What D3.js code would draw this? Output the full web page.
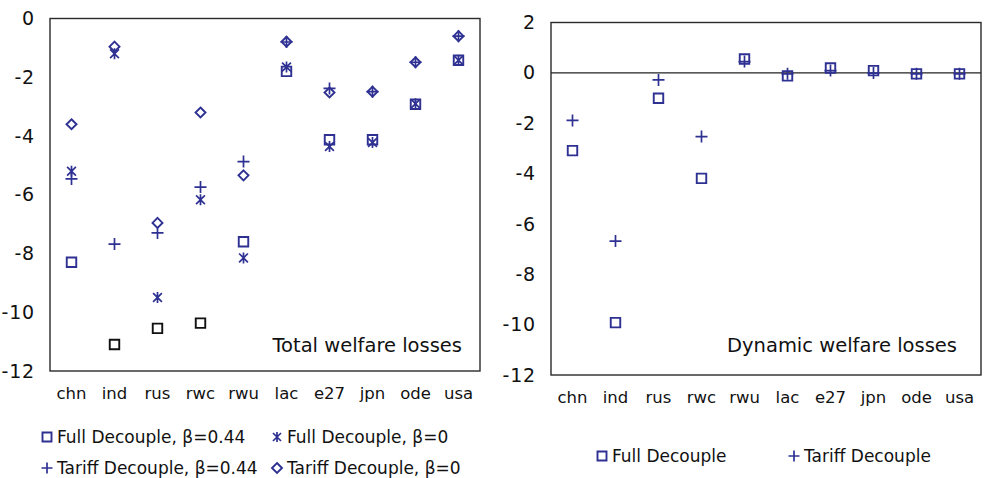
<!DOCTYPE html>
<html>
<head>
<meta charset="utf-8">
<script src="https://cdn.jsdelivr.net/npm/d3@7"></script>
<style>
  html, body { margin: 0; padding: 0; background: #fff; }
  svg { display: block; font-family: "DejaVu Sans", sans-serif; }
</style>
</head>
<body>
<svg id="chart" width="993" height="478"></svg>
<script>
// Regions along the horizontal axis
const regions = ['chn', 'ind', 'rus', 'rwc', 'rwu', 'lac', 'e27', 'jpn', 'ode', 'usa'];

// Total welfare losses (%)
const totalFullB044   = [-8.3, -11.1, -10.55, -10.37, -7.6, -1.8, -4.13, -4.13, -2.92, -1.42];
const totalFullB0     = [-5.2, -1.2, -9.5, -6.17, -8.15, -1.65, -4.36, -4.22, -2.9, -1.42];
const totalTariffB044 = [-5.46, -7.68, -7.3, -5.74, -4.87, -0.8, -2.38, -2.49, -1.49, -0.6];
const totalTariffB0   = [-3.6, -0.96, -6.96, -3.2, -5.34, -0.79, -2.52, -2.49, -1.49, -0.6];

// Dynamic welfare losses (%)
const dynamicFull   = [-3.09, -9.92, -1.01, -4.19, 0.55, -0.12, 0.19, 0.09, -0.04, -0.04];
const dynamicTariff = [-1.89, -6.68, -0.28, -2.53, 0.45, -0.04, 0.09, -0.01, -0.04, -0.04];

// Axis ticks
const totalTicks   = [0, -2, -4, -6, -8, -10, -12];
const dynamicTicks = [2, 0, -2, -4, -6, -8, -10, -12];

// Full-decouple β=0.44 points that are printed in black in the left panel
const blackFullRegions = ['ind', 'rus', 'rwc'];

const NAVY = '#2e3192';
const INK = '#111';
const svg = d3.select('#chart');

// Marker outlines, centred on 0,0
const markerPath = {
  square: s => `M${-s/2},${-s/2}H${s/2}V${s/2}H${-s/2}Z`,
  plus: s => `M${-s/2},0H${s/2}M0,${-s/2}V${s/2}`,
  star: s => `M${-s*0.4},${-s*0.4}L${s*0.4},${s*0.4}M${-s*0.4},${s*0.4}L${s*0.4},${-s*0.4}M0,${-s/2}V${s/2}`,
  diamond: s => `M0,${-s/2}L${s/2},0L0,${s/2}L${-s/2},0Z`
};
const markerSize = { square: 9.5, plus: 12, star: 11, diamond: 10 };

function drawMarker(g, shape, x, y, color, size) {
  g.append('path')
    .attr('transform', `translate(${x},${y})`)
    .attr('d', markerPath[shape](size || markerSize[shape]))
    .attr('fill', 'none')
    .attr('stroke', color)
    .attr('stroke-width', shape === 'square' || shape === 'diamond' ? 1.9 : 1.7);
}

function panel(opts) {
  const { left, right, top, bottom, domain, ticks, series, title, titleX, titleY, zeroLine } = opts;
  const x = d3.scaleBand().domain(regions).range([left, right]);
  const y = d3.scaleLinear().domain(domain).range([bottom, top]);
  const g = svg.append('g');

  // y axis labels
  const ya = g.append('g')
    .attr('transform', `translate(${left},0)`)
    .call(d3.axisLeft(y).tickValues(ticks).tickSize(0).tickPadding(15));
  ya.select('.domain').remove();
  ya.selectAll('text').attr('font-size', 19).attr('fill', INK)
    .attr('font-family', '"DejaVu Sans", sans-serif')
    .attr('letter-spacing', 0.8)
    .text(d => d < 0 ? '-' + Math.abs(d) : d);

  // category labels
  const xa = g.append('g')
    .attr('transform', `translate(0,${bottom})`)
    .call(d3.axisBottom(x).tickSize(0).tickPadding(16));
  xa.select('.domain').remove();
  xa.selectAll('text').attr('font-size', 16.5).attr('fill', INK)
    .attr('font-family', '"DejaVu Sans", sans-serif');

  if (zeroLine) {
    g.append('line')
      .attr('x1', left).attr('x2', right)
      .attr('y1', y(0)).attr('y2', y(0))
      .attr('stroke', '#222').attr('stroke-width', 1.3);
  }

  // points
  series.forEach(s => {
    s.values.forEach((v, i) => {
      const color = s.colorFor ? s.colorFor(regions[i]) : NAVY;
      drawMarker(g, s.shape, x(regions[i]) + x.bandwidth() / 2, y(v), color);
    });
  });

  // frame
  g.append('rect')
    .attr('x', left).attr('y', top)
    .attr('width', right - left).attr('height', bottom - top)
    .attr('fill', 'none').attr('stroke', '#2a2a2a').attr('stroke-width', 1.4);

  g.append('text')
    .attr('x', titleX).attr('y', titleY)
    .attr('text-anchor', 'end')
    .attr('font-size', 19.5).attr('fill', INK)
    .text(title);
}

panel({
  left: 50, right: 480, top: 18.5, bottom: 371,
  domain: [-12, 0], ticks: totalTicks,
  title: 'Total welfare losses', titleX: 462, titleY: 351.5,
  series: [
    { shape: 'star', values: totalFullB0 },
    { shape: 'plus', values: totalTariffB044 },
    { shape: 'diamond', values: totalTariffB0 },
    { shape: 'square', values: totalFullB044,
      colorFor: r => blackFullRegions.includes(r) ? INK : NAVY }
  ]
});

panel({
  left: 551, right: 981, top: 22.5, bottom: 375,
  domain: [-12, 2], ticks: dynamicTicks, zeroLine: true,
  title: 'Dynamic welfare losses', titleX: 957, titleY: 351.5,
  series: [
    { shape: 'square', values: dynamicFull },
    { shape: 'plus', values: dynamicTariff }
  ]
});

// Legends
const legendItems = [
  { shape: 'square', label: 'Full Decouple, β=0.44', x: 47, y: 437 },
  { shape: 'star', label: 'Full Decouple, β=0', x: 277, y: 437 },
  { shape: 'plus', label: 'Tariff Decouple, β=0.44', x: 47, y: 468 },
  { shape: 'diamond', label: 'Tariff Decouple, β=0', x: 277, y: 468 },
  { shape: 'square', label: 'Full Decouple', x: 602, y: 456 },
  { shape: 'plus', label: 'Tariff Decouple', x: 794, y: 456 }
];
const lg = svg.append('g');
legendItems.forEach(d => {
  drawMarker(lg, d.shape, d.x, d.y, NAVY, d.shape === 'square' ? 9 : d.shape === 'plus' ? 11 : 10);
  lg.append('text')
    .attr('x', d.x + 10).attr('y', d.y)
    .attr('dy', '0.35em')
    .attr('font-size', 17).attr('fill', INK)
    .text(d.label);
});
</script>
</body>
</html>
